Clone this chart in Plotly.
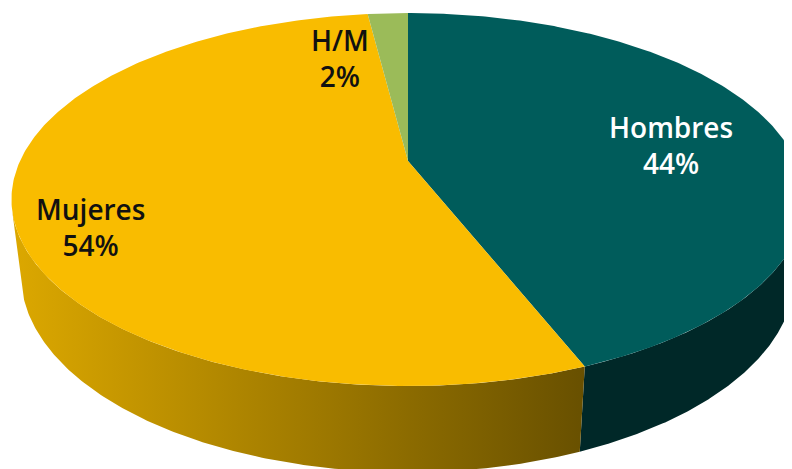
import numpy as np
import plotly.graph_objects as go

# ---- data ----
categories = ["Hombres", "Mujeres", "H/M"]
values = [44, 54, 2]
labels_pct = ["44%", "54%", "2%"]

# ---- styles ----
top_colors = ["#005C5B", "#F9BC00", "#9BBB59"]
side_colors = ["#002828", "#B08600", "#5E7A2E"]
side_gradients = [None, [[0, "#DCA800"], [1, "#685000"]], None]
label_colors = ["#FFFFFF", "#111111", "#111111"]
label_pos = [(671, 145), (90, 227), (340, 58)]

W, H = 792, 469
OFF = 8                    # page body margin
CX, CY = 408, 161          # projected pie centre (pixels)
F_OVER_D = 388.0           # horizontal half-width at centre
RATIO = 225.0 / 148.0      # front/back half-height ratio (perspective)
BACK = 148.0               # pixels from centre to back edge
DEPTH = 0.22               # thickness relative to radius

# perspective camera derived from the measured proportions
C_OVER_D = (RATIO - 1) / (RATIO + 1)
S = BACK * (1 + C_OVER_D) / F_OVER_D
ALPHA = np.arcsin(S)
C = np.cos(ALPHA)
D = C / C_OVER_D
F = F_OVER_D * D


def proj(theta_deg, y):
    t = np.radians(theta_deg)
    X, Z = np.sin(t), np.cos(t)
    depth = D + Z * C - y * S
    u = F * X / depth
    v = F * (Z * S + y * C) / depth
    return CX + u, CY - v


total = sum(values)
bounds = np.concatenate([[0], np.cumsum(values)]) / total * 360.0

fig = go.Figure()

# side walls (front, visible part only)
tmin = np.degrees(np.arccos(-1.0 / (D * C)))
tmax = 360.0 - tmin
for i, cat in enumerate(categories):
    lo, hi = max(bounds[i], tmin), min(bounds[i + 1], tmax)
    if hi <= lo:
        continue
    th = np.linspace(lo, hi, 200)
    xt, yt = proj(th, 0.0)
    xb, yb = proj(th[::-1], -DEPTH)
    xs = np.concatenate([xt, xb, xt[:1]])
    ys = np.concatenate([yt, yb, yt[:1]])
    kw = dict(fillcolor=side_colors[i])
    if side_gradients[i] is not None:
        kw = dict(fillgradient=dict(type="horizontal", colorscale=side_gradients[i]))
    fig.add_trace(go.Scatter(x=xs, y=ys, mode="lines", fill="toself",
                             line=dict(width=0), hoverinfo="skip",
                             showlegend=False, **kw))

# top faces
for i, cat in enumerate(categories):
    th = np.linspace(bounds[i], bounds[i + 1], 300)
    xa, ya = proj(th, 0.0)
    xs = np.concatenate([[CX], xa, [CX]])
    ys = np.concatenate([[CY], ya, [CY]])
    fig.add_trace(go.Scatter(x=xs, y=ys, mode="lines", fill="toself",
                             fillcolor=top_colors[i], line=dict(width=0),
                             name=cat, hoverinfo="name", showlegend=False))

for i, cat in enumerate(categories):
    fig.add_annotation(x=label_pos[i][0], y=label_pos[i][1],
                       text=f"{cat}<br>{labels_pct[i]}", showarrow=False,
                       font=dict(family="Open Sans", size=28, weight=600,
                                 color=label_colors[i]),
                       align="center")

fig.update_layout(
    width=W, height=H,
    margin=dict(l=0, r=0, t=0, b=0),
    paper_bgcolor="white", plot_bgcolor="white",
    xaxis=dict(range=[OFF, W + OFF], visible=False, fixedrange=True),
    yaxis=dict(range=[H + OFF, OFF], visible=False, fixedrange=True),
)

fig.write_html("out.html")
